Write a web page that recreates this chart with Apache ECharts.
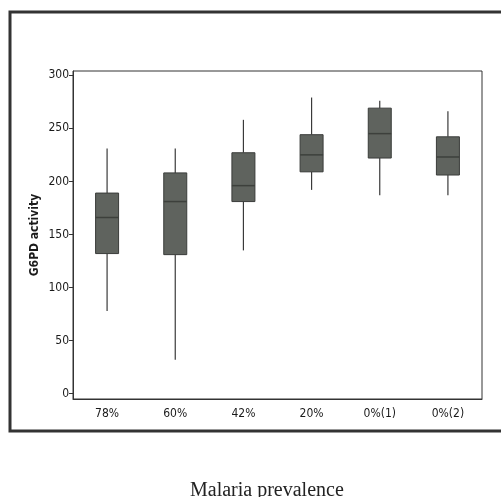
<!DOCTYPE html>
<html>
<head>
<meta charset="utf-8">
<script src="https://cdn.jsdelivr.net/npm/echarts@6/dist/echarts.min.js"></script>
<style>html,body{margin:0;padding:0;background:#fff}#c{width:501px;height:497px}</style>
</head>
<body>
<div id="c"></div>
<script>
var categories = ['78%', '60%', '42%', '20%', '0%(1)', '0%(2)'];
var whiskerLow = [78, 32, 135, 192, 187, 187];
var q1 = [132, 131, 181, 209, 222, 206];
var median = [166, 181, 196, 225, 245, 223];
var q3 = [189, 208, 227, 244, 269, 242];
var whiskerHigh = [231, 231, 258, 279, 276, 266];
var yTicks = [0, 50, 100, 150, 200, 250, 300];

var data = categories.map(function (c, i) {
  return [i, whiskerLow[i], q1[i], median[i], q3[i], whiskerHigh[i]];
});

var chart = echarts.init(document.getElementById('c'));
var tickFont = 'DejaVu Sans Condensed';
chart.setOption({
  backgroundColor: '#fff',
  animation: false,
  title: {
    text: 'Malaria prevalence',
    left: 185, top: 476,
    textStyle: { fontFamily: 'Liberation Serif', fontSize: 20, fontWeight: 'normal', color: '#222' }
  },
  graphic: [{
    type: 'rect', silent: true,
    shape: { x: 10, y: 12, width: 500, height: 419 },
    style: { fill: 'none', stroke: '#333', lineWidth: 3 }
  }],
  grid: { left: 73, top: 71, right: 19, bottom: 98, show: true, borderColor: '#333', borderWidth: 1, backgroundColor: '#fff' },
  xAxis: {
    type: 'category', data: categories, boundaryGap: true,
    axisLine: { onZero: false, lineStyle: { color: '#333' } },
    axisTick: { alignWithLabel: true, length: 4, lineStyle: { color: '#333' } },
    axisLabel: { fontFamily: tickFont, fontSize: 12, color: '#1a1a1a', margin: 9 },
    splitLine: { show: false }
  },
  yAxis: {
    type: 'value', min: -5, max: 304,
    name: 'G6PD activity', nameLocation: 'middle', nameRotate: 90, nameGap: 32, nameMoveOverlap: false,
    nameTextStyle: { fontFamily: tickFont, fontSize: 12, fontWeight: 'bold', color: '#1a1a1a' },
    axisLine: { show: true, lineStyle: { color: '#333' } },
    axisTick: { show: true, length: 4, customValues: yTicks, lineStyle: { color: '#333' } },
    axisLabel: { customValues: yTicks, fontFamily: tickFont, fontSize: 12, color: '#1a1a1a', margin: 4 },
    splitLine: { show: false }
  },
  series: [{
    type: 'custom',
    encode: { x: 0, y: [1, 2, 3, 4, 5] },
    data: data,
    renderItem: function (params, api) {
      var i = api.value(0);
      var pLow = api.coord([i, api.value(1)]);
      var pQ1 = api.coord([i, api.value(2)]);
      var pMed = api.coord([i, api.value(3)]);
      var pQ3 = api.coord([i, api.value(4)]);
      var pHigh = api.coord([i, api.value(5)]);
      var w = 23;
      var x = pQ1[0];
      var lineStyle = { stroke: '#3a3a3a', lineWidth: 1.2 };
      return {
        type: 'group',
        children: [
          { type: 'line', shape: { x1: x, y1: pHigh[1], x2: x, y2: pQ3[1] }, style: lineStyle },
          { type: 'line', shape: { x1: x, y1: pQ1[1], x2: x, y2: pLow[1] }, style: lineStyle },
          { type: 'rect', shape: { x: x - w / 2, y: pQ3[1], width: w, height: pQ1[1] - pQ3[1] },
            style: { fill: '#5f635e', stroke: '#3a3c3a', lineWidth: 1 } },
          { type: 'line', shape: { x1: x - w / 2, y1: pMed[1], x2: x + w / 2, y2: pMed[1] },
            style: { stroke: '#3d403c', lineWidth: 1.5 } }
        ]
      };
    }
  }]
});
</script>
</body>
</html>
